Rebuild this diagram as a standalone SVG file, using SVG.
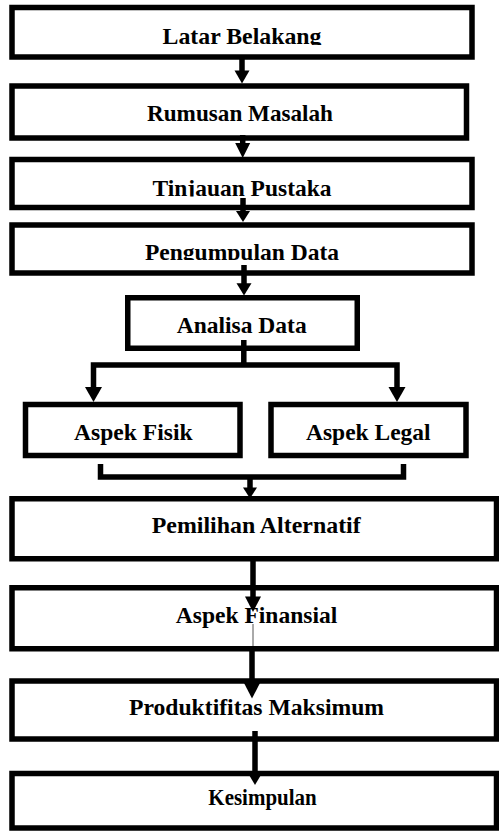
<svg xmlns="http://www.w3.org/2000/svg" width="499" height="831" viewBox="0 0 499 831">
<style>
.box{fill:#fff;stroke:#000;stroke-width:5.5}
.lbl{font-family:"Liberation Serif","Times New Roman",serif;font-weight:bold;font-size:22.5px;fill:#000;text-anchor:middle}
.ln{fill:none;stroke:#000;stroke-width:5.5}
.hd{fill:#000}
</style>
<defs>
<clipPath id="c1"><rect x="0" y="0" width="499" height="45"/></clipPath>
<clipPath id="c3"><rect x="0" y="150" width="499" height="46.5"/></clipPath>
<clipPath id="c4"><rect x="0" y="220" width="499" height="40"/></clipPath>
</defs>
<rect width="499" height="831" fill="#fff"/>
<g id="n1"><rect class="box" x="12" y="7.5" width="460" height="49.5"/><text class="lbl" x="242" y="44" textLength="159" lengthAdjust="spacingAndGlyphs" clip-path="url(#c1)">Latar Belakang</text></g>
<g id="n2"><rect class="box" x="12" y="86" width="454.5" height="52"/><text class="lbl" x="240" y="120.5" textLength="186" lengthAdjust="spacingAndGlyphs">Rumusan Masalah</text></g>
<g id="n3"><rect class="box" x="12" y="159.5" width="460" height="48"/><text class="lbl" x="242" y="196" textLength="179" lengthAdjust="spacingAndGlyphs" clip-path="url(#c3)">Tinjauan Pustaka</text></g>
<g id="n4"><rect class="box" x="12" y="225" width="460" height="48"/><text class="lbl" x="242" y="259.5" textLength="194" lengthAdjust="spacingAndGlyphs" clip-path="url(#c4)">Pengumpulan Data</text></g>
<g id="n5"><rect class="box" x="127.75" y="297.75" width="229.5" height="50.5"/><text class="lbl" x="241.7" y="332.5" textLength="130" lengthAdjust="spacingAndGlyphs">Analisa Data</text></g>
<g id="n6"><rect class="box" x="25.5" y="404.5" width="214.5" height="51"/><text class="lbl" x="133.3" y="439.5" textLength="118.5" lengthAdjust="spacingAndGlyphs">Aspek Fisik</text></g>
<g id="n7"><rect class="box" x="271" y="404.5" width="195" height="51"/><text class="lbl" x="368.3" y="439.5" textLength="124.5" lengthAdjust="spacingAndGlyphs">Aspek Legal</text></g>
<g id="n8"><rect class="box" x="12" y="498.75" width="484.5" height="60"/><text class="lbl" x="256.2" y="533" textLength="209" lengthAdjust="spacingAndGlyphs">Pemilihan Alternatif</text></g>
<g id="n9"><rect class="box" x="12" y="587.75" width="484.5" height="61"/><text class="lbl" x="256.5" y="623" textLength="161.5" lengthAdjust="spacingAndGlyphs">Aspek Finansial</text></g>
<g id="n10"><rect class="box" x="12" y="681" width="484.5" height="58"/><text class="lbl" x="256.5" y="715" textLength="255" lengthAdjust="spacingAndGlyphs">Produktifitas Maksimum</text></g>
<g id="n11"><rect class="box" x="12" y="773.5" width="484.5" height="54.5"/><text class="lbl" x="262.5" y="805" textLength="108.3" lengthAdjust="spacingAndGlyphs">Kesimpulan</text></g>
<g id="connectors">
<path class="ln" d="M242 57V72"/><polygon class="hd" points="234.5,70.5 249.5,70.5 242,83.5"/>
<path class="ln" d="M242.7 135V145"/><polygon class="hd" points="235.2,143 250.2,143 242.7,158"/>
<path class="ln" d="M243 198V213"/><polygon class="hd" points="236,211 250,211 243,222"/>
<path class="ln" d="M244 265V285"/><polygon class="hd" points="236.5,283.3 251.5,283.3 244,295.5"/>
<path class="ln" d="M243.8 340V365M93.5 365H397M93.5 362.25V388M397 362.25V388"/>
<polygon class="hd" points="85,387 102,387 93.5,402"/><polygon class="hd" points="388.5,387 405.5,387 397,402"/>
<path class="ln" d="M100.5 464V477M403.5 464V477M97.75 477H406.25M250 477V489"/>
<polygon class="hd" points="243,487.5 257,487.5 250,498.5"/>
<path class="ln" d="M253 557V598"/><polygon class="hd" points="245,596.5 261,596.5 253,612"/>
<path d="M253 624V646" stroke="#555" stroke-width="1"/>
<path class="ln" d="M252 651V684"/><polygon class="hd" points="244,683 260,683 252,698.5"/>
<path class="ln" d="M255 731V773"/><polygon class="hd" points="247,771.5 263,771.5 255,785"/>
</g>
</svg>
